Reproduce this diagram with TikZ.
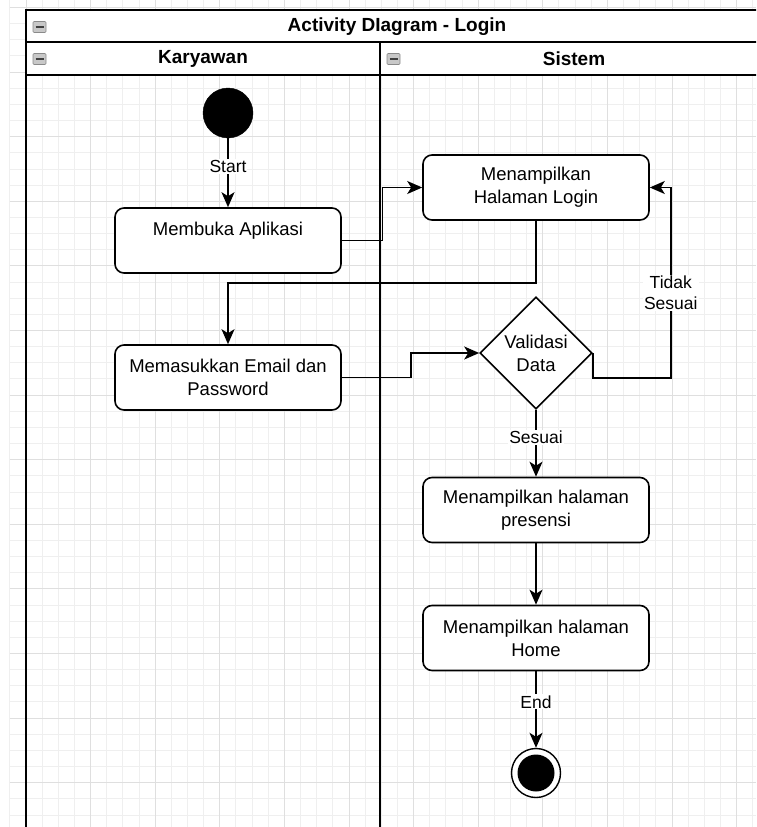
\documentclass[tikz,border=0pt]{standalone}
\usepackage{fontspec}
\setmainfont{Liberation Sans}
\usetikzlibrary{arrows.meta,shapes.geometric}

\definecolor{gridminor}{HTML}{EFEFEF}
\definecolor{gridmajor}{HTML}{DFDFDF}
\definecolor{iconfill}{HTML}{C8C8C8}
\definecolor{iconedge}{HTML}{8A8A8A}

\begin{document}
\begin{tikzpicture}[x=1pt,y=-1pt,
  poolline/.style={draw=black,line width=1.8pt},
  headtext/.style={font=\fontsize{19}{23}\selectfont\bfseries},
  actbox/.style={rectangle,rounded corners=9pt,draw=black,line width=1.6pt,fill=white,
    minimum width=226pt,minimum height=65pt,inner sep=2pt,align=center,
    font=\fontsize{18.5}{23}\selectfont},
  decision/.style={diamond,draw=black,line width=1.6pt,fill=white,inner sep=0pt,
    minimum width=112pt,minimum height=112pt},
  boxtext/.style={align=center,font=\fontsize{18.5}{23}\selectfont},
  initial/.style={circle,fill=black,draw=black,minimum size=50pt,inner sep=0pt},
  finalout/.style={circle,fill=white,draw=black,line width=1.4pt,minimum size=49pt,inner sep=0pt},
  finalin/.style={circle,fill=black,minimum size=37pt,inner sep=0pt},
  flow/.style={draw=black,line width=1.6pt,-{Stealth[length=15pt,width=13pt,inset=4pt]}},
  elabel/.style={fill=white,inner sep=1pt,align=center,font=\fontsize{17.5}{21}\selectfont},
  collapse/.style={rectangle,rounded corners=1pt,draw=iconedge,fill=iconfill,line width=0.6pt,
    minimum width=13pt,minimum height=11pt,inner sep=0pt}
]
\useasboundingbox (0,0) rectangle (756,827);
\clip (0,0) rectangle (756,827);

% background grid: fine lines every 16.15, heavier every fourth
\foreach \i in {0,...,46}
  \draw[gridminor,line width=1pt] ({9.85+16.15*\i},0) -- ({9.85+16.15*\i},827);
\foreach \j in {0,...,50}
  \draw[gridminor,line width=1pt] (9.85,{7.5+16.15*\j}) -- (756,{7.5+16.15*\j});
\foreach \i in {0,...,11}
  \draw[gridmajor,line width=1pt] ({26+64.6*\i},0) -- ({26+64.6*\i},827);
\foreach \j in {0,...,12}
  \draw[gridmajor,line width=1pt] (9.85,{7.5+64.6*\j}) -- (756,{7.5+64.6*\j});

% swimlane pool with its two lanes
\fill[white] (26,10) rectangle (768,75);
\draw[poolline] (26,10) rectangle (768,850);
\draw[poolline] (26,42) -- (768,42);
\draw[poolline] (26,75) -- (768,75);
\draw[poolline] (380,42) -- (380,850);

\node[headtext] (title) at (397,27) {Activity DIagram - Login};
\node[headtext] (laneA) at (203,59) {Karyawan};
\node[headtext] (laneB) at (574,59) {Sistem};

\node[collapse] (iconT) at (39.5,27) {};
\node[collapse] (iconA) at (39.5,59) {};
\node[collapse] (iconB) at (393.5,59) {};
\foreach \n in {iconT,iconA,iconB}
  \draw[black!75,line width=1.2pt] ([xshift=-4pt]\n.center) -- ([xshift=4pt]\n.center);

% activities
\node[initial] (start) at (228,113) {};
\node[actbox,label={[boxtext,yshift=9.5pt]center:Membuka Aplikasi}] (mb) at (228,240.5) {};
\node[actbox] (login) at (536,187.5) {Menampilkan\\Halaman Login};
\node[actbox] (mi) at (228,377.5) {Memasukkan Email dan\\Password};
\node[decision,label={[boxtext]center:Validasi\\Data}] (val) at (536,353) {};
\node[actbox] (pre) at (536,510) {Menampilkan halaman\\presensi};
\node[actbox] (home) at (536,638) {Menampilkan halaman\\Home};
\node[finalout] (endo) at (536,773) {};
\node[finalin] (endi) at (endo.center) {};

% control flow
\draw[flow] (start.south) -- node[elabel,pos=0.41] {Start} (mb.north);
\draw[flow] (mb.east) -- ++(40.5,0) |- (login.west);
\draw[flow] (login.south) -- ++(0,62) -| (mi.north);
\draw[flow] (mi.east) -- ++(69,0) |- (val.west);
\draw[flow] (val.east) -- ++(0,25) -- ++(78,0) |- node[elabel,pos=0.223] {Tidak\\Sesuai} (login.east);
\draw[flow] (val.south) -- node[elabel,pos=0.41] {Sesuai} (pre.north);
\draw[flow] (pre.south) -- (home.north);
\draw[flow] (home.south) -- node[elabel,pos=0.4] {End} (endo.north);
\end{tikzpicture}
\end{document}
